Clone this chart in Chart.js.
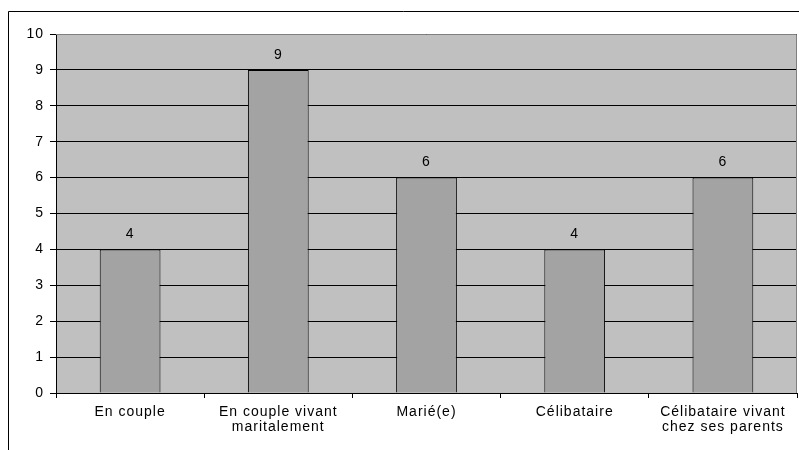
<!DOCTYPE html>
<html>
<head>
<meta charset="utf-8">
<script src="https://cdn.jsdelivr.net/npm/chart.js@4"></script>
<style>
  html, body { margin: 0; padding: 0; background: #fff; }
  #wrap { width: 799px; height: 450px; position: relative; }
</style>
</head>
<body>
<div id="wrap"><canvas id="chart" width="799" height="450"></canvas></div>
<script>
const categories = [
    "En couple",
    ["En couple vivant", "maritalement"],
    "Marié(e)",
    "Célibataire",
    ["Célibataire vivant", "chez ses parents"]
];
const values = [4, 9, 6, 4, 6];
const yTicks = [0, 1, 2, 3, 4, 5, 6, 7, 8, 9, 10];

const FONT = '"Liberation Sans", Arial, sans-serif';

// texte un peu étiré comme dans l'original
const spacing = {
    id: 'spacing',
    beforeUpdate(chart) { chart.ctx.letterSpacing = '1px'; },
    beforeDraw(chart) { chart.ctx.letterSpacing = '1px'; }
};

// fond gris de la zone de tracé + cadre extérieur
const frame = {
    id: 'frame',
    beforeDraw(chart) {
        const ctx = chart.ctx, a = chart.chartArea;
        ctx.save();
        ctx.fillStyle = '#fff';
        ctx.fillRect(0, 0, chart.width, chart.height);
        ctx.strokeStyle = '#000';
        ctx.lineWidth = 1;
        ctx.beginPath();
        ctx.moveTo(8.5, chart.height);
        ctx.lineTo(8.5, 11.5);
        ctx.lineTo(chart.width, 11.5);
        ctx.stroke();
        ctx.fillStyle = '#c0c0c0';
        ctx.fillRect(a.left, a.top, a.right - a.left, a.bottom - a.top);
        ctx.restore();
    },
    beforeDatasetsDraw(chart) {
        const ctx = chart.ctx, a = chart.chartArea;
        ctx.save();
        ctx.strokeStyle = '#808080';
        ctx.lineWidth = 1;
        ctx.beginPath();
        ctx.moveTo(a.left, Math.round(a.top) + 0.5);
        ctx.lineTo(Math.round(a.right) - 0.5, Math.round(a.top) + 0.5);
        ctx.lineTo(Math.round(a.right) - 0.5, a.bottom);
        ctx.stroke();
        ctx.restore();
    }
};

// valeurs au-dessus des barres
const valueLabels = {
    id: 'valueLabels',
    afterDatasetsDraw(chart) {
        const ctx = chart.ctx;
        ctx.save();
        ctx.fillStyle = '#000';
        ctx.font = '14px ' + FONT;
        ctx.textAlign = 'center';
        ctx.textBaseline = 'middle';
        chart.getDatasetMeta(0).data.forEach((bar, i) => {
            ctx.fillText(values[i], bar.x, bar.y - 15);
        });
        ctx.restore();
    }
};

new Chart(document.getElementById('chart'), {
    type: 'bar',
    data: {
        labels: categories,
        datasets: [{
            data: values,
            backgroundColor: '#a3a3a3',
            borderColor: '#000',
            borderWidth: 1,
            categoryPercentage: 1,
            barPercentage: 0.41
        }]
    },
    options: {
        responsive: false,
        animation: false,
        layout: { padding: { top: 34, right: 2, left: 0, bottom: 0 } },
        plugins: {
            legend: { display: false },
            tooltip: { enabled: false }
        },
        scales: {
            x: {
                offset: true,
                grid: {
                    offset: true,
                    drawOnChartArea: false,
                    drawTicks: true,
                    tickLength: 5,
                    tickColor: '#000'
                },
                border: { color: '#000', width: 1 },
                ticks: {
                    color: '#000',
                    padding: 6,
                    maxRotation: 0,
                    autoSkip: false,
                    font: { family: FONT, size: 14, lineHeight: 1.1 }
                },
                afterFit(scale) { scale.height = 57; }
            },
            y: {
                min: 0,
                max: 10,
                afterBuildTicks(scale) { scale.ticks = yTicks.map(v => ({ value: v })); },
                grid: {
                    color: '#000',
                    lineWidth: 1,
                    drawTicks: true,
                    tickLength: 6,
                    tickColor: '#000'
                },
                border: { color: '#000', width: 1 },
                ticks: {
                    color: '#000',
                    padding: 6,
                    font: { family: FONT, size: 14 }
                },
                afterFit(scale) { scale.width = 56; }
            }
        }
    },
    plugins: [spacing, frame, valueLabels]
});
</script>
</body>
</html>
